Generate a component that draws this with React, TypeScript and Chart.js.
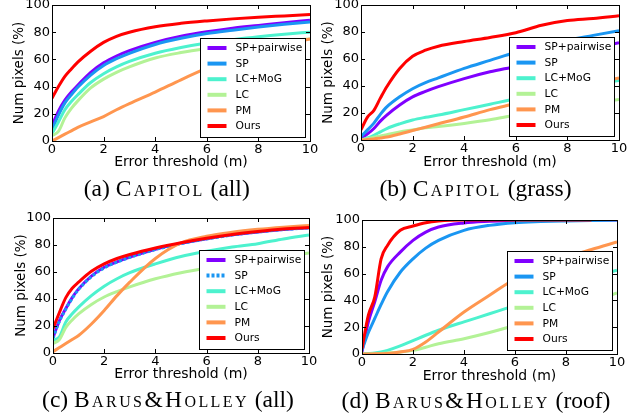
import React, { useEffect, useRef } from "react";
import { Chart, registerables } from "chart.js";

Chart.register(...registerables);

// ---------- data ----------
const SERIES_LABELS = ["SP+pairwise", "SP", "LC+MoG", "LC", "PM", "Ours"];
const SERIES_COLORS = ["#8000ff", "#1a96f2", "#4df2ce", "#b3f296", "#ff964f", "#ff0000"];
const THRESHOLDS = [0, 0.25, 0.5, 0.75, 1, 1.5, 2, 2.5, 3, 4, 5, 6, 7, 8, 9, 10];
const X_TICKS = [0, 2, 4, 6, 8, 10];
const Y_TICKS = [0, 20, 40, 60, 80, 100];

// (a) Capitol (all)
const capAllSpPair = [11.5, 22, 30, 36, 41, 50.5, 57.5, 62.5, 66.5, 72.5, 77, 80.3, 83, 85, 87, 88.8];
const capAllSp = [8, 19, 28, 34, 39.5, 48.5, 55.5, 60.5, 64.5, 71, 75.5, 79, 81.5, 83.8, 85.8, 87.5];
const capAllLcMog = [5.5, 14, 23, 29, 34, 43, 49.5, 54.5, 58.5, 64.5, 68.7, 72, 74.5, 76.7, 78.5, 80];
const capAllLc = [4, 7, 17, 24, 29.5, 39, 45.5, 50.5, 54.5, 61, 65, 68, 70.5, 72.3, 73.8, 75];
const capAllPm = [0, 2.5, 5, 7.5, 10, 14, 18, 23, 27.5, 36, 45, 53.5, 61, 67, 71.5, 75];
const capAllOurs = [31.5, 40, 47.5, 53, 58, 66, 72.5, 77, 80, 84, 86.5, 88.3, 89.8, 91, 92, 93];

// (b) Capitol (grass)
const capGrassSpPair = [1, 4.5, 8.5, 14, 18.5, 26, 32, 36, 39.5, 45.5, 50.5, 54.5, 59, 63.5, 68, 72];
const capGrassSp = [2.5, 7.5, 12.5, 19, 24.5, 32, 38, 42.5, 46, 53, 59, 65, 70, 74, 77.5, 81];
const capGrassLcMog = [0, 1.5, 3.5, 6, 8.5, 12, 14.8, 16.8, 18.5, 22.5, 26.5, 30.5, 34, 37.5, 41, 44];
const capGrassLc = [0, 1, 2, 3, 4, 6, 7.5, 9, 10, 12.3, 15, 18.5, 21.5, 24.5, 27.5, 30];
const capGrassPm = [0, 0.3, 0.8, 1.5, 2.2, 4.5, 7, 9.5, 12, 17, 22.5, 27, 32, 37, 42, 46];
const capGrassOurs = [7.5, 17, 22, 31, 39.5, 53, 62, 66.5, 69.5, 73, 76, 79.5, 85, 88.5, 90, 92];

// (c) Barus&Holley (all)
const bhAllSpPair = [11.5, 24, 33, 41, 47.5, 57, 63.5, 67.5, 71, 76.8, 81.2, 84.7, 87.5, 89.7, 91.5, 92.8];
const bhAllSp = [11, 23.5, 32.5, 40.5, 47, 56.5, 63, 67.3, 70.8, 76.6, 81, 84.5, 87.4, 89.6, 91.4, 92.7];
const bhAllLcMog = [9.5, 12, 23, 29, 34, 42.5, 49.5, 55, 59.5, 66, 71.5, 75.3, 78.5, 81, 84.5, 87.5];
const bhAllLc = [7, 10, 19, 24.5, 29, 36, 41.5, 45.5, 49, 55, 59.5, 63, 66, 68.6, 71.5, 74];
const bhAllPm = [1, 4, 7, 10, 13, 21.5, 31.5, 42.5, 52.5, 70, 81.5, 86.5, 89.5, 91.6, 93.2, 94.5];
const bhAllOurs = [18, 30, 41, 48, 52.5, 60.5, 66, 70, 73, 77.8, 81.7, 85, 87.8, 90, 91.8, 93];

// (d) Barus&Holley (roof)
const bhRoofSpPair = [1.5, 24, 39, 55, 65, 76, 84.8, 91, 94.8, 97.8, 99, 99.7, 100, 100, 100, 100];
const bhRoofSp = [3, 16, 26.5, 37, 46.5, 61, 71, 79, 84.8, 92.3, 96, 98, 98.8, 99.3, 99.7, 100];
const bhRoofLcMog = [0, 0.3, 0.7, 1.5, 2.7, 6, 10, 14, 17.7, 24, 30, 36.3, 43, 50, 56.5, 62.5];
const bhRoofLc = [0, 0, 0.2, 0.4, 0.7, 1.5, 2.7, 5, 7.7, 11.4, 16, 21.4, 27, 33, 39, 45.5];
const bhRoofPm = [0, 0, 0.1, 0.2, 0.3, 1.5, 3.5, 9, 16.4, 31.3, 43.8, 56, 64, 72, 78, 83.6];
const bhRoofOurs = [4, 29, 42.5, 71, 81, 92.3, 95.5, 98, 99.3, 100, 100, 100, 100, 100, 100, null];

const X_TITLE = "Error threshold (m)";
const Y_TITLE = "Num pixels (%)";

type Panel = {
  key: string;
  series: (number | null)[][];
  dashedSp: boolean;
  left: number;
  top: number;
  w: number;
  h: number;
  padTop: number;
  padRight: number;
  yW: number;
  xH: number;
  yTitlePad: number;
  xTitlePad: number;
  capPrefix: string;
  capName: string;
  capSuffix: string;
  capX: number;
  capY: number;
};

const PANELS: Panel[] = [
  {
    key: "a",
    series: [capAllSpPair, capAllSp, capAllLcMog, capAllLc, capAllPm, capAllOurs],
    dashedSp: false,
    left: 0, top: 0, w: 320, h: 175, padTop: 5, padRight: 10, yW: 52, xH: 34,
    yTitlePad: 11.4, xTitlePad: 4,
    capPrefix: "(a) ", capName: "Capitol", capSuffix: " (all)", capX: 166.7, capY: 187.5,
  },
  {
    key: "b",
    series: [capGrassSpPair, capGrassSp, capGrassLcMog, capGrassLc, capGrassPm, capGrassOurs],
    dashedSp: false,
    left: 320, top: 0, w: 320, h: 175, padTop: 5, padRight: 21, yW: 41, xH: 35,
    yTitlePad: 0.4, xTitlePad: 4,
    capPrefix: "(b) ", capName: "Capitol", capSuffix: " (grass)", capX: 475.5, capY: 187.5,
  },
  {
    key: "c",
    series: [bhAllSpPair, bhAllSp, bhAllLcMog, bhAllLc, bhAllPm, bhAllOurs],
    dashedSp: true,
    left: 0, top: 210, w: 320, h: 180, padTop: 8, padRight: 11, yW: 53, xH: 37,
    yTitlePad: 13.4, xTitlePad: 7.6,
    capPrefix: "(c) ", capName: "Barus&Holley", capSuffix: " (all)", capX: 168, capY: 399,
  },
  {
    key: "d",
    series: [bhRoofSpPair, bhRoofSp, bhRoofLcMog, bhRoofLc, bhRoofPm, bhRoofOurs],
    dashedSp: false,
    left: 320, top: 210, w: 320, h: 180, padTop: 10, padRight: 23, yW: 42, xH: 36,
    yTitlePad: 0.4, xTitlePad: 5.6,
    capPrefix: "(d) ", capName: "Barus&Holley", capSuffix: " (roof)", capX: 476, capY: 399.5,
  },
];

const FONT = "'DejaVu Sans', sans-serif";

const frameAndLegend = (dashedSp: boolean) => ({
  id: "frameAndLegend",
  afterDatasetsDraw(chart: any) {
    const { ctx, chartArea } = chart;
    const { left, right, top, bottom } = chartArea;
    const xs = chart.scales.x;
    const ys = chart.scales.y;
    ctx.save();
    ctx.strokeStyle = "#000";
    ctx.lineWidth = 1;
    ctx.beginPath();
    const tl = 4;
    X_TICKS.forEach((v) => {
      const px = Math.round(xs.getPixelForValue(v)) + 0.5;
      ctx.moveTo(px, bottom);
      ctx.lineTo(px, bottom - tl);
      ctx.moveTo(px, top);
      ctx.lineTo(px, top + tl);
    });
    Y_TICKS.forEach((v) => {
      const py = Math.round(ys.getPixelForValue(v)) + 0.5;
      ctx.moveTo(left, py);
      ctx.lineTo(left + tl, py);
      ctx.moveTo(right, py);
      ctx.lineTo(right - tl, py);
    });
    ctx.stroke();
    ctx.strokeRect(Math.round(left) + 0.5, Math.round(top) + 0.5, Math.round(right - left), Math.round(bottom - top));

    // legend box (lower right)
    const bw = 105;
    const bh = 99;
    const bx = Math.round(right - 5 - bw) + 0.5;
    const by = Math.round(bottom - 4 - bh) + 0.5;
    ctx.fillStyle = "#fff";
    ctx.fillRect(bx, by, bw, bh);
    ctx.strokeRect(bx, by, bw, bh);
    ctx.font = `10.7px ${FONT}`;
    ctx.textBaseline = "middle";
    ctx.textAlign = "left";
    SERIES_LABELS.forEach((lab, i) => {
      const cy = by + 9.5 + i * 15.6;
      ctx.beginPath();
      ctx.strokeStyle = SERIES_COLORS[i];
      ctx.lineWidth = 4;
      ctx.setLineDash(dashedSp && i === 1 ? [3, 2] : []);
      ctx.moveTo(bx + 7, cy);
      ctx.lineTo(bx + 26, cy);
      ctx.stroke();
      ctx.setLineDash([]);
      ctx.fillStyle = "#000";
      ctx.fillText(lab, bx + 35, cy + 0.5);
    });
    ctx.restore();
  },
});

function PanelChart({ p }: { p: Panel }) {
  const ref = useRef<HTMLCanvasElement | null>(null);
  useEffect(() => {
    if (!ref.current) return;
    const datasets = p.series.map((vals, i) => ({
      label: SERIES_LABELS[i],
      data: THRESHOLDS.map((x, j) => ({ x, y: vals[j] })),
      borderColor: SERIES_COLORS[i],
      backgroundColor: SERIES_COLORS[i],
      borderWidth: 3,
      borderDash: p.dashedSp && i === 1 ? [3, 2] : [],
      pointRadius: 0,
      fill: false,
      cubicInterpolationMode: "monotone" as const,
      order: SERIES_LABELS.length - 1 - i,
      spanGaps: false,
    }));
    const chart = new Chart(ref.current, {
      type: "line",
      data: { datasets },
      options: {
        animation: false,
        responsive: false,
        devicePixelRatio: 1,
        layout: { padding: { left: 0, top: p.padTop, right: p.padRight, bottom: 0 } },
        plugins: { legend: { display: false }, tooltip: { enabled: false } },
        scales: {
          x: {
            type: "linear",
            min: 0,
            max: 10,
            afterBuildTicks: (s: any) => {
              s.ticks = X_TICKS.map((v) => ({ value: v }));
            },
            afterFit: (s: any) => {
              s.height = p.xH;
              s.paddingLeft = 0;
              s.paddingRight = 0;
            },
            grid: { display: false, drawTicks: false },
            border: { display: false },
            ticks: { color: "#000", font: { family: FONT, size: 13 }, padding: 1, maxRotation: 0, autoSkip: false },
            title: {
              display: true,
              text: X_TITLE,
              color: "#000",
              font: { family: FONT, size: 14 },
              padding: { top: 0, bottom: p.xTitlePad },
            },
          },
          y: {
            type: "linear",
            min: 0,
            max: 100,
            afterBuildTicks: (s: any) => {
              s.ticks = Y_TICKS.map((v) => ({ value: v }));
            },
            afterFit: (s: any) => {
              s.width = p.yW;
              s.paddingTop = 0;
              s.paddingBottom = 0;
            },
            grid: { display: false, drawTicks: false },
            border: { display: false },
            ticks: { color: "#000", font: { family: FONT, size: 13 }, padding: 2, autoSkip: false },
            title: {
              display: true,
              text: Y_TITLE,
              color: "#000",
              font: { family: FONT, size: 13.5 },
              padding: { top: p.yTitlePad, bottom: 0 },
            },
          },
        },
      },
      plugins: [frameAndLegend(p.dashedSp)],
    });
    return () => chart.destroy();
  }, [p]);
  return (
    <canvas
      ref={ref}
      width={p.w}
      height={p.h}
      style={{ position: "absolute", left: p.left, top: p.top, width: p.w, height: p.h }}
    />
  );
}

export default function App() {
  return (
    <div style={{ position: "absolute", left: 0, top: 0, width: 640, height: 419, background: "#fff", overflow: "hidden" }}>
      {PANELS.map((p) => (
        <PanelChart key={p.key} p={p} />
      ))}
      {PANELS.map((p) => (
        <div
          key={"cap" + p.key}
          style={{
            position: "absolute",
            left: p.capX - 160,
            width: 320,
            top: p.capY - 14,
            height: 28,
            lineHeight: "28px",
            textAlign: "center",
            fontFamily: "'Liberation Serif', serif",
            fontSize: 23.5,
            color: "#000",
            whiteSpace: "nowrap",
          }}
        >
          {p.capPrefix}
          <span style={{ fontVariant: "small-caps", letterSpacing: "2.4px" }}>{p.capName}</span>
          {p.capSuffix}
        </div>
      ))}
    </div>
  );
}
